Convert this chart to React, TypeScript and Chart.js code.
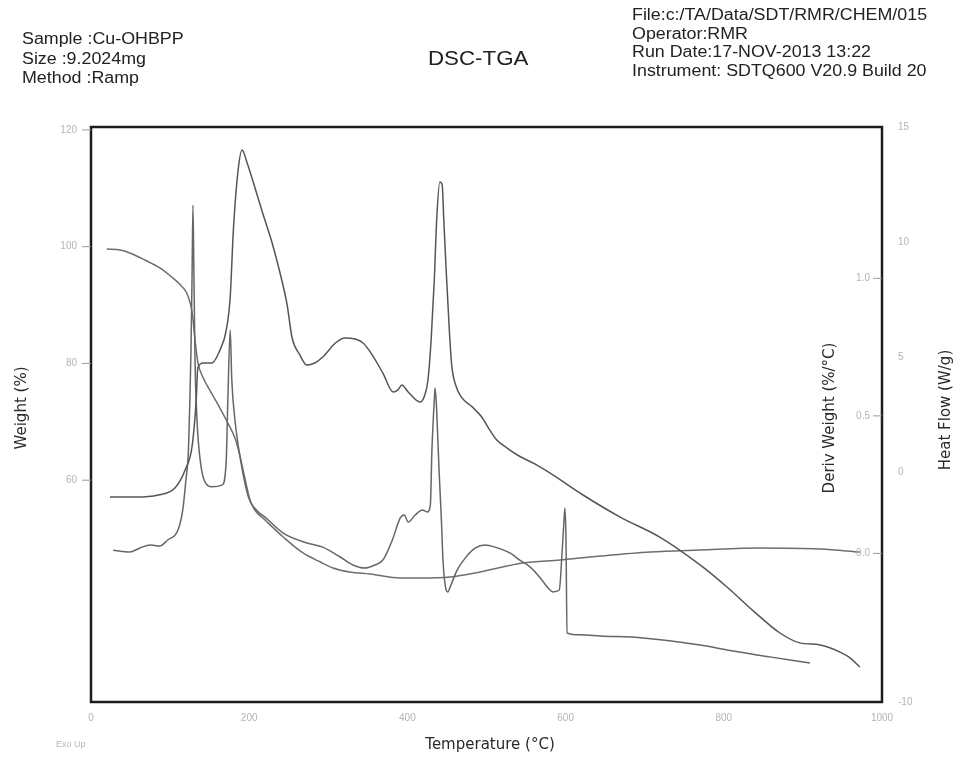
import React, { useEffect, useRef } from "react";
import { Chart, registerables } from "chart.js";

Chart.register(...registerables);

// ---- Data ----
// Heat flow (W/g) vs temperature (°C)
const hfTemp = [24, 56, 85, 106, 119, 128, 133, 135, 142, 153, 163, 171, 176, 180, 186, 191, 197, 207, 217, 229, 239, 248, 254, 264, 273, 283, 293, 309, 321, 334, 344, 353, 369, 382, 388, 393, 401, 416, 422, 426, 430, 434, 437, 441, 444, 446, 449, 453, 456, 461, 469, 482, 494, 504, 513, 526, 539, 561, 580, 622, 669, 719, 770, 804, 839, 871, 896, 922, 947, 960, 972];
const heatFlow = [-1.09, -1.09, -1.0, -0.7, 0.09, 1.17, 3.13, 4.52, 4.74, 4.74, 5.3, 6.17, 7.61, 10.52, 13.13, 14.0, 13.48, 12.39, 11.26, 9.96, 8.65, 7.26, 5.87, 5.09, 4.65, 4.74, 5.0, 5.61, 5.83, 5.78, 5.61, 5.22, 4.3, 3.48, 3.57, 3.78, 3.48, 3.04, 3.35, 4.0, 5.74, 8.35, 10.96, 12.61, 12.48, 10.96, 8.78, 6.17, 4.65, 3.78, 3.22, 2.83, 2.39, 1.83, 1.39, 1.04, 0.74, 0.35, -0.04, -1.0, -1.96, -2.83, -4.04, -5.0, -6.09, -7.0, -7.43, -7.52, -7.83, -8.09, -8.48];

// Derivative weight (%/°C) vs temperature (°C)
const dwTemp = [28, 49, 62, 75, 87, 97, 110, 116, 120, 123, 125, 126.4, 127.7, 128.9, 130.2, 131.5, 134, 138, 143, 153, 166, 171, 173, 176, 178, 182, 188, 199, 209, 220, 243, 273, 293, 315, 331, 346, 359, 369, 381, 391, 396, 401, 410, 419, 425, 429, 431, 434, 435, 437, 440, 443, 445, 449, 451, 455, 463, 473, 486, 498, 511, 530, 542, 555, 568, 578, 584, 592, 595, 598, 599.2, 600.5, 601.8, 618, 644, 698, 770, 804, 858, 909];
const derivWeight = [0.012, 0.005, 0.02, 0.031, 0.027, 0.049, 0.085, 0.158, 0.267, 0.365, 0.558, 0.739, 0.994, 1.266, 0.994, 0.703, 0.485, 0.34, 0.267, 0.242, 0.249, 0.34, 0.558, 0.812, 0.63, 0.485, 0.358, 0.205, 0.158, 0.132, 0.074, 0.038, 0.023, -0.013, -0.042, -0.053, -0.042, -0.024, 0.049, 0.129, 0.14, 0.114, 0.14, 0.158, 0.151, 0.176, 0.376, 0.558, 0.601, 0.521, 0.303, 0.121, -0.024, -0.133, -0.14, -0.115, -0.06, -0.017, 0.02, 0.031, 0.023, 0.001, -0.024, -0.049, -0.089, -0.126, -0.14, -0.133, -0.024, 0.121, 0.165, 0.049, -0.289, -0.296, -0.3, -0.307, -0.333, -0.351, -0.376, -0.398];

// Weight (%) vs temperature (°C)
const wTemp = [20, 37, 49, 68, 87, 102, 112, 121, 125, 128, 131.5, 135, 142, 150, 163, 173, 182, 188, 195, 201, 207, 220, 243, 268, 290, 306, 327, 353, 391, 416, 454, 492, 546, 593, 644, 707, 770, 846, 922, 972];
const weight = [99.6, 99.43, 98.92, 97.72, 96.35, 94.8, 93.6, 92.07, 90.52, 88.64, 84.01, 80.24, 77.5, 75.45, 72.36, 69.79, 67.23, 64.31, 60.03, 56.6, 54.89, 53.18, 50.27, 47.53, 45.98, 44.96, 44.27, 43.93, 43.24, 43.24, 43.41, 44.27, 45.81, 46.33, 47.01, 47.7, 48.04, 48.38, 48.21, 47.7];

// Tick labels
const xTicks = [0, 200, 400, 600, 800, 1000];
const weightTicks = [120, 100, 80, 60];
const derivTicks = [1.0, 0.5, 0.0];
const heatFlowTicks = [15, 10, 5, 0, -10];

const headerLeft = ["Sample :Cu-OHBPP", "Size :9.2024mg", "Method :Ramp"];
const headerRight = [
  "File:c:/TA/Data/SDT/RMR/CHEM/015",
  "Operator:RMR",
  "Run Date:17-NOV-2013 13:22",
  "Instrument: SDTQ600 V20.9 Build 20",
];
const chartTitle = "DSC-TGA";

const pts = (xs: number[], ys: number[]) => xs.map((x, i) => ({ x, y: ys[i] }));

const decorPlugin = {
  id: "decor",
  afterDraw(chart: any) {
    const { ctx, chartArea: a, scales } = chart;
    ctx.save();
    // frame
    ctx.strokeStyle = "#1c1c1c";
    ctx.lineWidth = 2.5;
    ctx.strokeRect(a.left, a.top, a.right - a.left, a.bottom - a.top);

    ctx.font = '10px "Liberation Sans", Arial, sans-serif';
    ctx.fillStyle = "#b4b4b4";
    ctx.strokeStyle = "#9a9a9a";
    ctx.lineWidth = 1;

    // x ticks
    ctx.textAlign = "center";
    ctx.textBaseline = "top";
    xTicks.forEach((v) => {
      const x = scales.x.getPixelForValue(v);
      ctx.fillText(String(v), x, a.bottom + 11);
    });

    // weight ticks (left)
    ctx.textAlign = "right";
    ctx.textBaseline = "middle";
    weightTicks.forEach((v) => {
      const y = scales.yW.getPixelForValue(v);
      ctx.fillText(String(v), a.left - 14, y);
      ctx.beginPath();
      ctx.moveTo(a.left - 9, y);
      ctx.lineTo(a.left, y);
      ctx.stroke();
    });

    // deriv ticks (inside, right)
    derivTicks.forEach((v) => {
      const y = scales.yD.getPixelForValue(v);
      ctx.fillText(v.toFixed(1), a.right - 12, y);
      ctx.beginPath();
      ctx.moveTo(a.right - 9, y);
      ctx.lineTo(a.right, y);
      ctx.stroke();
    });

    // heat flow ticks (outside right)
    ctx.textAlign = "left";
    heatFlowTicks.forEach((v) => {
      const y = scales.yH.getPixelForValue(v);
      ctx.fillText(String(v), a.right + 16, y);
    });

    // axis titles
    ctx.fillStyle = "#2a2a2a";
    ctx.font = '15px "DejaVu Sans", sans-serif';
    ctx.textAlign = "center";
    ctx.textBaseline = "middle";
    ctx.fillText("Temperature (°C)", 490, 745);

    const vtext = (t: string, x: number, y: number) => {
      ctx.save();
      ctx.translate(x, y);
      ctx.rotate(-Math.PI / 2);
      ctx.fillText(t, 0, 0);
      ctx.restore();
    };
    vtext("Weight (%)", 22, 408);
    vtext("Deriv Weight (%/°C)", 830, 418);
    vtext("Heat Flow (W/g)", 946, 410);

    ctx.fillStyle = "#b8b8b8";
    ctx.font = '9px "Liberation Sans", Arial, sans-serif';
    ctx.textAlign = "left";
    ctx.fillText("Exo Up", 56, 745);
    ctx.restore();
  },
};

export default function App() {
  const ref = useRef<HTMLCanvasElement | null>(null);

  useEffect(() => {
    if (!ref.current) return;
    const common = {
      fill: false,
      pointRadius: 0,
      borderWidth: 1.5,
      cubicInterpolationMode: "monotone" as const,
    };
    const chart = new Chart(ref.current, {
      type: "line",
      data: {
        datasets: [
          { ...common, label: "Heat Flow", data: pts(hfTemp, heatFlow), yAxisID: "yH", borderColor: "#555555" },
          { ...common, label: "Deriv Weight", data: pts(dwTemp, derivWeight), yAxisID: "yD", borderColor: "#666666" },
          { ...common, label: "Weight", data: pts(wTemp, weight), yAxisID: "yW", borderColor: "#6e6e6e" },
        ],
      },
      options: {
        responsive: false,
        animation: false,
        layout: { padding: { left: 91, top: 127, right: 77, bottom: 56 } },
        plugins: { legend: { display: false }, tooltip: { enabled: false }, title: { display: false } },
        scales: {
          x: { type: "linear", min: 0, max: 1000, display: false },
          yW: { type: "linear", position: "left", min: 22, max: 120.5, display: false },
          yD: { type: "linear", position: "right", min: -0.54, max: 1.55, display: false },
          yH: { type: "linear", position: "right", min: -10, max: 15, display: false },
        },
      },
      plugins: [decorPlugin],
    });
    return () => chart.destroy();
  }, []);

  const headFont = '"Liberation Sans", Arial, sans-serif';
  const stretch = { transform: "scaleX(1.115)", transformOrigin: "left top" };
  return (
    <div style={{ position: "fixed", left: 0, top: 0, width: 959, height: 758, background: "#fff" }}>
      <canvas ref={ref} width={959} height={758} style={{ position: "absolute", left: 0, top: 0 }} />
      <div style={{ position: "absolute", left: 22, top: 29, fontFamily: headFont, fontSize: 16, lineHeight: "19.5px", color: "#222", whiteSpace: "nowrap", ...stretch }}>
        {headerLeft.map((t) => (
          <div key={t}>{t}</div>
        ))}
      </div>
      <div style={{ position: "absolute", left: 428, top: 46, fontFamily: headFont, fontSize: 20, lineHeight: "24px", color: "#222", whiteSpace: "nowrap", ...stretch }}>
        {chartTitle}
      </div>
      <div style={{ position: "absolute", left: 632, top: 6, fontFamily: headFont, fontSize: 16, lineHeight: "18.5px", color: "#222", whiteSpace: "nowrap", ...stretch }}>
        {headerRight.map((t) => (
          <div key={t}>{t}</div>
        ))}
      </div>
    </div>
  );
}
